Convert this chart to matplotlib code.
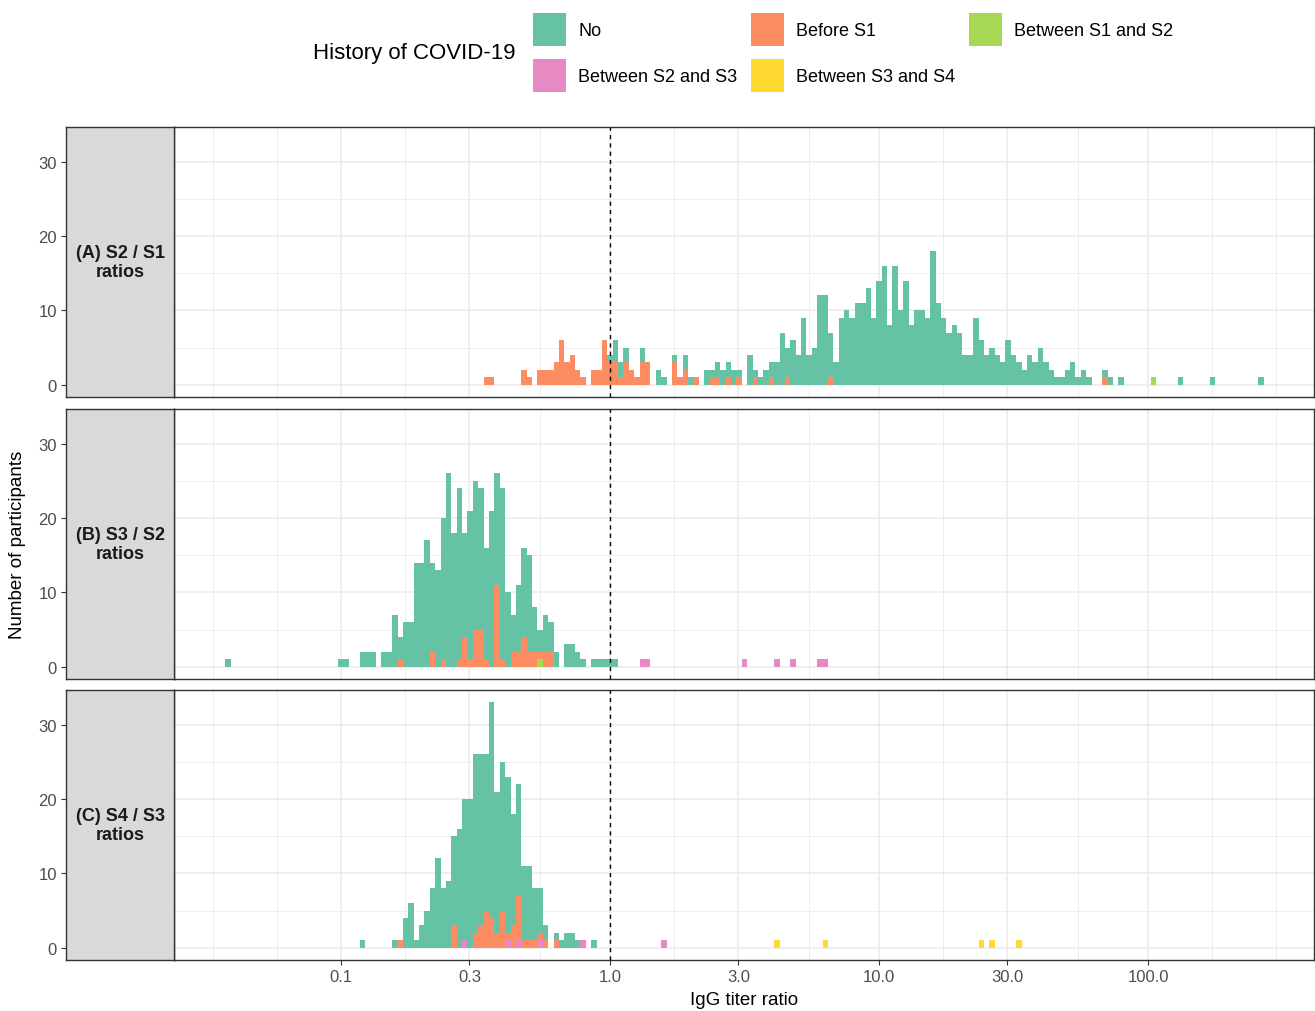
import numpy as np
import matplotlib.pyplot as plt
from matplotlib.patches import Rectangle
from collections import defaultdict

plt.rcParams["font.family"] = ["Liberation Sans", "DejaVu Sans"]

# bins are in log10 units, bin k is centred on 10 ** (k * BINWIDTH)
BINWIDTH = 0.02

CATEGORIES = ["No", "Before S1", "Between S1 and S2", "Between S2 and S3", "Between S3 and S4"]
COLORS = ["#66C2A5", "#FC8D62", "#A6D854", "#E78AC3", "#FFD92F"]
PANEL_LABELS = ["(A) S2 / S1\nratios", "(B) S3 / S2\nratios", "(C) S4 / S3\nratios"]
X_TICKS = [0.1, 0.3, 1, 3, 10, 30, 100]
X_TICK_LABELS = ["0.1", "0.3", "1.0", "3.0", "10.0", "30.0", "100.0"]
Y_TICKS = [0, 10, 20, 30]

# (A) S2 / S1
A_NO_START = 0
A_NO = [1, 3, 2, 2, 0, 0, 2, 0, 0, 2,
        1, 0, 1, 0, 2, 1, 0, 0, 2, 1,
        2, 2, 2, 2, 1, 0, 4, 1, 1, 2,
        2, 3, 7, 4, 6, 4, 9, 4, 5, 12,
        12, 6, 3, 9, 10, 9, 11, 11, 13, 9,
        14, 16, 8, 16, 10, 14, 8, 10, 10, 9,
        18, 11, 9, 7, 8, 7, 4, 4, 9, 6,
        4, 5, 4, 3, 6, 4, 3, 2, 4, 3,
        5, 3, 2, 1, 1, 2, 3, 1, 2, 1,
        0, 0, 1, 1, 0, 1]
A_NO_SINGLES = [106, 112, 121]
A_BEFORE_BINS = [-23, -22, -16, -15, -13, -12, -11, -10, -9, -8,
                 -7, -6, -5, -3, -2, -1, 0, 1, 2, 3,
                 4, 5, 6, 7, 12, 13, 14, 16, 19, 20,
                 22, 24, 27, 30, 33, 41, 92]
A_BEFORE_N = [1, 1, 2, 1, 2, 2, 2, 3, 6, 3,
              4, 2, 1, 2, 2, 6, 3, 3, 1, 3,
              2, 1, 3, 3, 3, 1, 2, 1, 1, 1,
              1, 1, 1, 1, 1, 1, 1]
A_S1S2_SINGLES = [101]

# (B) S3 / S2
B_NO_START = -50
B_NO = [1, 1, 0, 0, 2, 2, 2, 0, 2, 2,
        7, 3, 6, 6, 14, 14, 17, 12, 13, 19,
        26, 18, 23, 14, 20, 20, 19, 15, 21, 15,
        23, 10, 5, 9, 12, 13, 6, 3, 5, 4,
        2, 0, 3, 3, 2, 1, 0, 1, 1, 1,
        1, 1]
B_NO_SINGLES = [-71]
B_BEFORE_START = -39
B_BEFORE = [1, 0, 0, 0, 0, 0, 2, 0, 1, 0,
            0, 1, 4, 1, 5, 5, 1, 0, 11, 1,
            0, 2, 2, 4, 2, 2, 1, 2, 2]
B_S1S2_SINGLES = [-13]
B_S2S3_SINGLES = [6, 7, 25, 31, 34, 39, 40]

# (C) S4 / S3
C_NO_START = -40
C_NO = [1, 0, 4, 6, 1, 3, 5, 8, 12, 8,
        9, 12, 16, 19, 20, 24, 23, 21, 29, 19,
        20, 21, 15, 15, 10, 10, 7, 6, 2, 0,
        1, 1, 2, 2, 1, 0, 0, 1]
C_NO_SINGLES = [-46]
C_BEFORE_START = -39
C_BEFORE = [1, 0, 0, 0, 0, 0, 0, 0, 0, 0,
            3, 0, 0, 0, 2, 3, 5, 4, 2, 5,
            1, 3, 6, 1, 1, 1, 1, 1, 0, 1]
C_S2S3_SINGLES = [-27, -19, -17, -13, -5, 10]
C_S3S4_SINGLES = [31, 40, 69, 71, 76]


def run(start, values):
    out = defaultdict(int)
    for i, v in enumerate(values):
        out[start + i] += v
    return out


def singles(bins, out=None):
    out = out if out is not None else defaultdict(int)
    for b in bins:
        out[b] += 1
    return out


panels = [
    {
        "No": singles(A_NO_SINGLES, run(A_NO_START, A_NO)),
        "Before S1": defaultdict(int, zip(A_BEFORE_BINS, A_BEFORE_N)),
        "Between S1 and S2": singles(A_S1S2_SINGLES),
    },
    {
        "No": singles(B_NO_SINGLES, run(B_NO_START, B_NO)),
        "Before S1": run(B_BEFORE_START, B_BEFORE),
        "Between S1 and S2": singles(B_S1S2_SINGLES),
        "Between S2 and S3": singles(B_S2S3_SINGLES),
    },
    {
        "No": singles(C_NO_SINGLES, run(C_NO_START, C_NO)),
        "Before S1": run(C_BEFORE_START, C_BEFORE),
        "Between S2 and S3": singles(C_S2S3_SINGLES),
        "Between S3 and S4": singles(C_S3S4_SINGLES),
    },
]

W, H = 1315, 1012
fig = plt.figure(figsize=(W / 100, H / 100), dpi=100)

GRID = "#EBEBEB"
DARK = "#333333"

# minor breaks the way ggplot builds them (midpoints, extended one step)
lb = np.log10(X_TICKS)
ext = np.concatenate([[lb[0] - (lb[1] - lb[0])], lb, [lb[-1] + (lb[1] - lb[0])]])
x_minor = 10 ** np.concatenate([(ext[:-1] + ext[1:]) / 2, ext[[0, -1]]])

bins = np.arange(-80, 130)
left = 10 ** ((bins - 0.5) * BINWIDTH)
width = 10 ** ((bins + 0.5) * BINWIDTH) - left
stack_order = CATEGORIES[::-1]  # bottom to top

tops = [128, 410, 691]
for i, (top, data) in enumerate(zip(tops, panels)):
    ax = fig.add_axes([174 / W, 1 - (top + 270) / H, 1140 / W, 270 / H])
    sx = fig.add_axes([66 / W, 1 - (top + 270) / H, 108 / W, 270 / H])

    ax.set_xscale("log")
    ax.set_xlim(10 ** -1.621, 10 ** 2.617)
    ax.set_ylim(-1.65, 34.65)
    for v in x_minor:
        ax.axvline(v, color=GRID, lw=0.6, zorder=0)
    for v in X_TICKS:
        ax.axvline(v, color=GRID, lw=1.1, zorder=0)
    for v in [5, 15, 25]:
        ax.axhline(v, color=GRID, lw=0.6, zorder=0)
    for v in Y_TICKS:
        ax.axhline(v, color=GRID, lw=1.1, zorder=0)

    bottom = np.zeros(len(bins))
    for cat in stack_order:
        if cat not in data:
            continue
        h = np.array([data[cat].get(b, 0) for b in bins], dtype=float)
        m = h > 0
        ax.bar(left[m], h[m], width=width[m], bottom=bottom[m], align="edge",
               color=COLORS[CATEGORIES.index(cat)], linewidth=0, zorder=2)
        bottom += h

    ax.axvline(1, color="black", lw=1.0, ls=(0, (3, 3)), zorder=3)

    ax.set_yticks([])
    ax.minorticks_off()
    if i == 2:
        ax.set_xticks(X_TICKS)
        ax.set_xticklabels(X_TICK_LABELS)
        ax.tick_params(axis="x", length=3.6, width=0.8, color=DARK,
                       labelsize=12, labelcolor="#4D4D4D", pad=3)
    else:
        ax.set_xticks([])
    for s in ax.spines.values():
        s.set_color(DARK)
        s.set_linewidth(1.0)

    sx.set_facecolor("#D9D9D9")
    sx.set_ylim(ax.get_ylim())
    sx.set_xticks([])
    sx.set_yticks(Y_TICKS)
    sx.tick_params(axis="y", length=3.6, width=0.8, color=DARK,
                   labelsize=12, labelcolor="#4D4D4D", pad=3)
    for s in sx.spines.values():
        s.set_color(DARK)
        s.set_linewidth(1.0)
    sx.text(0.5, 0.5, PANEL_LABELS[i], transform=sx.transAxes, ha="center",
            va="center", fontsize=13, fontweight="bold", color="#1A1A1A",
            linespacing=1.1)

fig.text(744 / W, 1 - 1001 / H, "IgG titer ratio", ha="center", va="center",
         fontsize=13.5)
fig.text(18 / W, 1 - 545 / H, "Number of participants", ha="center",
         va="center", rotation=90, fontsize=13.5)

# legend
fig.text(313 / W, 1 - 54 / H, "History of COVID-19", ha="left", va="center",
         fontsize=16)
key_pos = [(533, 14), (751, 14), (969, 14), (533, 60), (751, 60)]
for (kx, ky), cat, col in zip(key_pos, CATEGORIES, COLORS):
    fig.patches.append(Rectangle((kx / W, 1 - (ky + 33) / H), 33 / W, 33 / H,
                                 transform=fig.transFigure, facecolor=col,
                                 edgecolor="none"))
    fig.text((kx + 45) / W, 1 - (ky + 17) / H, cat, ha="left", va="center",
             fontsize=13)

fig.savefig("out.png", dpi=100, facecolor="white")
